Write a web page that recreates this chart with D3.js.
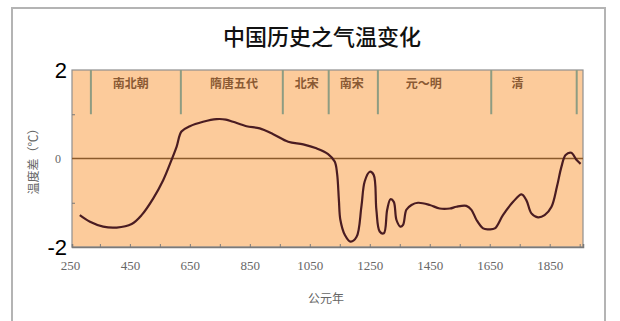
<!DOCTYPE html>
<html lang="zh">
<head>
<meta charset="UTF-8">
<title>中国历史之气温变化</title>
<style>
body { margin: 0; background: #fff; }
svg { display: block; }
.xlab text { font: 13px "Liberation Serif", serif; fill: #666; }
</style>
</head>
<body>
<div id="chart"></div>
<script src="https://cdnjs.cloudflare.com/ajax/libs/d3/7.8.5/d3.min.js"></script>
<script>
// temperature anomaly curve (year, degrees C)
const years = [283, 317, 361, 406, 456, 489, 528, 561, 589, 606, 622, 650, 694, 739, 770,
  794, 839, 883, 928, 978, 1028, 1072, 1111, 1133, 1141, 1147, 1152, 1167, 1186, 1206,
  1222, 1233, 1250, 1263, 1272, 1283, 1297, 1308, 1319, 1330, 1339, 1352, 1361, 1372,
  1389, 1411, 1450, 1483, 1517, 1539, 1572, 1589, 1606, 1628, 1645, 1667, 1694, 1728,
  1756, 1772, 1789, 1811, 1833, 1856, 1874, 1889, 1903, 1922, 1939, 1953];
const temps = [-1.28, -1.43, -1.54, -1.56, -1.48, -1.28, -0.90, -0.49, -0.03, 0.27, 0.61, 0.73, 0.83, 0.89, 0.88,
  0.83, 0.73, 0.68, 0.55, 0.38, 0.32, 0.23, 0.10, -0.07, -0.34, -0.94, -1.39, -1.73, -1.88, -1.77,
  -1.09, -0.52, -0.30, -0.37, -1.16, -1.65, -1.69, -1.16, -0.92, -0.98, -1.39, -1.54, -1.50, -1.16,
  -1.05, -1.00, -1.05, -1.13, -1.13, -1.09, -1.07, -1.16, -1.39, -1.58, -1.60, -1.58, -1.28, -0.98,
  -0.81, -0.94, -1.24, -1.33, -1.28, -1.09, -0.64, -0.19, 0.08, 0.13, -0.03, -0.12];

// dynasty bands
const periodNames = ["南北朝", "隋唐五代", "北宋", "南宋", "元～明", "清"];
const periodLabelYears = [453, 797, 1040, 1190, 1430, 1743];
const periodLines = [320, 620, 960, 1113, 1277, 1655, 1940];

const xTickYears = d3.range(350, 1960, 100);
const xLabelYears = d3.range(250, 1900, 200);
const yLabels = [-2, 0, 2];

const W = 620, H = 321;
const svg = d3.select("#chart").append("svg").attr("width", W).attr("height", H);

// outer frame
svg.append("rect").attr("x", 12).attr("y", 8).attr("width", 593).attr("height", 340)
  .attr("fill", "none").attr("stroke", "#b4b4b4").attr("stroke-width", 2);

const x = d3.scaleLinear().domain([257, 1961]).range([72, 583]);
const y = d3.scaleLinear().domain([-2, 2]).range([247, 70]);

svg.append("text").attr("x", 322).attr("y", 35)
  .attr("text-anchor", "middle").attr("dominant-baseline", "central")
  .style("font", "500 22px 'Noto Sans CJK SC', sans-serif").style("fill", "#111")
  .text("中国历史之气温变化");

// plot background
svg.append("rect").attr("x", x(257)).attr("y", y(2))
  .attr("width", x(1961) - x(257)).attr("height", y(-2) - y(2))
  .attr("fill", "#fccb9b").attr("stroke", "#8f8f8f").attr("stroke-width", 1.2);

// period dividers + labels
svg.append("g").selectAll("line").data(periodLines).join("line")
  .attr("x1", d => x(d)).attr("x2", d => x(d))
  .attr("y1", y(2)).attr("y2", y(1.0))
  .attr("stroke", "#8e9c82").attr("stroke-width", 2);

svg.append("g").selectAll("text").data(periodNames).join("text")
  .attr("x", (d, i) => x(periodLabelYears[i])).attr("y", y(1.72))
  .attr("text-anchor", "middle").attr("dominant-baseline", "central")
  .style("font", "bold 12px 'Noto Sans CJK SC', sans-serif").style("fill", "#8a5a34")
  .text(d => d);

// zero line
svg.append("line").attr("x1", x(257)).attr("x2", x(1961))
  .attr("y1", y(0)).attr("y2", y(0))
  .attr("stroke", "#8b5a2b").attr("stroke-width", 1.3);

// x tick marks pointing up into the plot
svg.append("g").attr("transform", `translate(0,${y(-2)})`)
  .call(d3.axisBottom(x).tickValues(xTickYears).tickSize(-3).tickFormat(""))
  .call(g => g.select(".domain").attr("stroke", "#7a7a7a").attr("stroke-width", 1.5))
  .call(g => g.selectAll(".tick line").attr("stroke", "#7a7a7a"));

svg.append("g").attr("class", "xlab").attr("transform", `translate(0,${y(-2) + 12})`)
  .call(d3.axisBottom(x).tickValues(xLabelYears).tickSize(0).tickFormat(d3.format("d")))
  .call(g => g.select(".domain").remove())
  .call(g => g.selectAll("text").attr("fill", null).attr("dy", "0.6em"));

// y ticks at +-1
svg.append("g").attr("transform", `translate(${x(257)},0)`)
  .call(d3.axisRight(y).tickValues([-1, 1]).tickSize(3).tickFormat(""))
  .call(g => g.select(".domain").remove())
  .call(g => g.selectAll(".tick line").attr("stroke", "#7a7a7a"));

// y labels: big 2 / -2, small 0
svg.append("g").selectAll("text").data(yLabels).join("text")
  .attr("x", d => d === 0 ? 61 : 67).attr("y", d => y(d))
  .attr("text-anchor", "end").attr("dominant-baseline", "central")
  .style("font-family", d => d === 0 ? "'Liberation Serif', serif" : "'Liberation Sans', Arial, sans-serif")
  .style("font-size", d => d === 0 ? "12px" : "22px")
  .style("fill", d => d === 0 ? "#666" : "#000")
  .text(d => d);

svg.append("text")
  .attr("transform", `translate(32,${y(0)}) rotate(-90)`)
  .attr("text-anchor", "middle").attr("dominant-baseline", "central")
  .style("font", "12px 'Noto Sans CJK SC', sans-serif").style("fill", "#666")
  .text("温度差（℃）");

svg.append("text").attr("x", 326).attr("y", 297)
  .attr("text-anchor", "middle").attr("dominant-baseline", "central")
  .style("font", "12px 'Noto Sans CJK SC', sans-serif").style("fill", "#666")
  .text("公元年");

// the curve
const line = d3.line().x(d => x(d[0])).y(d => y(d[1])).curve(d3.curveCatmullRom.alpha(0.5));
svg.append("path").datum(years.map((yr, i) => [yr, temps[i]]))
  .attr("d", line).attr("fill", "none")
  .attr("stroke", "#4a1c22").attr("stroke-width", 2.2)
  .attr("stroke-linejoin", "round");
</script>
</body>
</html>
